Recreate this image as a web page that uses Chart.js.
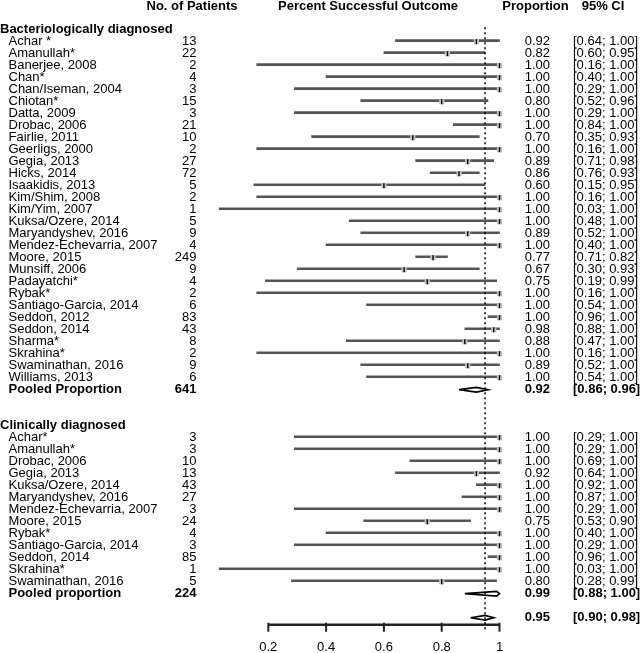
<!DOCTYPE html>
<html><head><meta charset="utf-8">
<script src="https://cdn.jsdelivr.net/npm/chart.js@4.4.1/dist/chart.umd.min.js"></script>
<style>html,body{margin:0;padding:0;background:#fff;overflow:hidden;}canvas{display:block;}</style>
</head><body>
<canvas id="c" width="642" height="653"></canvas>
<script>
// ---- Data ----
const bactStudies = ["Achar *","Amanullah*","Banerjee, 2008","Chan*","Chan/Iseman, 2004","Chiotan*","Datta, 2009","Drobac, 2006","Fairlie, 2011","Geerligs, 2000","Gegia, 2013","Hicks, 2014","Isaakidis, 2013","Kim/Shim, 2008","Kim/Yim, 2007","Kuksa/Ozere, 2014","Maryandyshev, 2016","Mendez-Echevarria, 2007","Moore, 2015","Munsiff, 2006","Padayatchi*","Rybak*","Santiago-Garcia, 2014","Seddon, 2012","Seddon, 2014","Sharma*","Skrahina*","Swaminathan, 2016","Williams, 2013"];
const bactN   = [13,22,2,4,3,15,3,21,10,2,27,72,5,2,1,5,9,4,249,9,4,2,6,83,43,8,2,9,6];
const bactEst = [0.92,0.82,1.00,1.00,1.00,0.80,1.00,1.00,0.70,1.00,0.89,0.86,0.60,1.00,1.00,1.00,0.89,1.00,0.77,0.67,0.75,1.00,1.00,1.00,0.98,0.88,1.00,0.89,1.00];
const bactLo  = [0.64,0.60,0.16,0.40,0.29,0.52,0.29,0.84,0.35,0.16,0.71,0.76,0.15,0.16,0.03,0.48,0.52,0.40,0.71,0.30,0.19,0.16,0.54,0.96,0.88,0.47,0.16,0.52,0.54];
const bactHi  = [1.00,0.95,1.00,1.00,1.00,0.96,1.00,1.00,0.93,1.00,0.98,0.93,0.95,1.00,1.00,1.00,1.00,1.00,0.82,0.93,0.99,1.00,1.00,1.00,1.00,1.00,1.00,1.00,1.00];

const clinStudies = ["Achar*","Amanullah*","Drobac, 2006","Gegia, 2013","Kuksa/Ozere, 2014","Maryandyshev, 2016","Mendez-Echevarria, 2007","Moore, 2015","Rybak*","Santiago-Garcia, 2014","Seddon, 2014","Skrahina*","Swaminathan, 2016"];
const clinN   = [3,3,10,13,43,27,3,24,4,3,85,1,5];
const clinEst = [1.00,1.00,1.00,0.92,1.00,1.00,1.00,0.75,1.00,1.00,1.00,1.00,0.80];
const clinLo  = [0.29,0.29,0.69,0.64,0.92,0.87,0.29,0.53,0.40,0.29,0.96,0.03,0.28];
const clinHi  = [1.00,1.00,1.00,1.00,1.00,1.00,1.00,0.90,1.00,1.00,1.00,1.00,0.99];

const pooledLabels = ["Pooled Proportion","Pooled proportion",""];
const pooledN   = [641,224,null];
const pooledEst = [0.92,0.99,0.95];
const pooledLo  = [0.86,0.88,0.90];
const pooledHi  = [0.96,1.00,0.98];

const sectionTitles = ["Bacteriologically diagnosed","Clinically diagnosed"];
const columnHeaders = ["No. of Patients","Percent Successful Outcome","Proportion","95% CI"];
const refValue = 0.95;
const xTicks = [0.2,0.4,0.6,0.8,1];
const xTickLabels = ["0.2","0.4","0.6","0.8","1"];

// ---- Row layout (row indices) ----
const bactStart = 0;
const bactPooledRow = bactStart + bactStudies.length;
const clinHeaderRow = bactPooledRow + 3;
const clinStart = clinHeaderRow + 1;
const clinPooledRow = clinStart + clinStudies.length;
const overallRow = clinPooledRow + 2;
const pooledRows = [bactPooledRow, clinPooledRow, overallRow];
const headerRow = -2.9;
const axisRow = 48.5;
const tickLabelRow = 50.5;

const rows = [];
bactStudies.forEach((s,i)=>rows.push({label:s,n:bactN[i],est:bactEst[i],lo:bactLo[i],hi:bactHi[i],y:bactStart+i}));
clinStudies.forEach((s,i)=>rows.push({label:s,n:clinN[i],est:clinEst[i],lo:clinLo[i],hi:clinHi[i],y:clinStart+i}));

const ciBars = rows.map(r=>({y:r.y, x:[r.lo, r.hi]}));
const pts = rows.map(r=>({x:r.est, y:r.y}));
const axisBar = [{y:axisRow, x:[xTicks[0], xTicks[xTicks.length-1]]}];

const dh = 0.2;
const diamonds = pooledRows.map((yr,k)=>({
  type:'line', showLine:true,
  data:[{x:pooledLo[k],y:yr},{x:pooledEst[k],y:yr-dh},{x:pooledHi[k],y:yr},{x:pooledEst[k],y:yr+dh},{x:pooledLo[k],y:yr}],
  borderColor:'#000', borderWidth:1.7, pointRadius:0, fill:false, tension:0, clip:false, order:2
}));

const fontFam = "'Liberation Sans', Arial, Helvetica, sans-serif";
const FS = 13;

const textPlugin = {
  id:'forestText',
  afterDraw(chart){
    const ctx = chart.ctx, xs = chart.scales.x, ys = chart.scales.y;
    const Y = v => ys.getPixelForValue(v);
    ctx.save();
    ctx.fillStyle = '#000';
    ctx.textBaseline = 'middle';
    const reg = FS+'px '+fontFam, bold = 'bold '+FS+'px '+fontFam;
    ctx.font = bold; ctx.textAlign = 'center';
    const hx = [192, 368, 535.5, 603];
    columnHeaders.forEach((h,i)=>ctx.fillText(h, hx[i], Y(headerRow)));
    ctx.textAlign = 'left';
    ctx.fillText(sectionTitles[0], 0, Y(bactStart-1));
    ctx.fillText(sectionTitles[1], 0, Y(clinHeaderRow));
    rows.forEach(r=>{
      const yy = Y(r.y);
      ctx.font = reg;
      ctx.textAlign = 'left'; ctx.fillText(r.label, 8.5, yy);
      ctx.textAlign = 'right'; ctx.fillText(String(r.n), 196.5, yy);
      ctx.fillText(r.est.toFixed(2), 550, yy);
      ctx.textAlign = 'left';
      ctx.fillText('['+r.lo.toFixed(2)+'; '+r.hi.toFixed(2)+']', 573, yy);
    });
    pooledRows.forEach((yr,k)=>{
      const yy = Y(yr);
      ctx.font = bold;
      if (pooledLabels[k]) { ctx.textAlign='left'; ctx.fillText(pooledLabels[k], 8.5, yy); }
      if (pooledN[k]!==null) { ctx.textAlign='right'; ctx.fillText(String(pooledN[k]), 196.5, yy); }
      ctx.textAlign='right'; ctx.fillText(pooledEst[k].toFixed(2), 550, yy);
      ctx.textAlign='left'; ctx.fillText('['+pooledLo[k].toFixed(2)+'; '+pooledHi[k].toFixed(2)+']', 573, yy);
    });
    const ay = Y(axisRow);
    xTicks.forEach((t,i)=>{
      const px = xs.getPixelForValue(t);
      ctx.fillStyle = '#222';
      ctx.fillRect(px - 1, ay - 1, 2, 9);
      ctx.fillStyle = '#000';
      ctx.font = reg; ctx.textAlign = 'center';
      ctx.fillText(xTickLabels[i], px, Y(tickLabelRow));
    });
    ctx.restore();
  }
};

new Chart(document.getElementById('c'), {
  type:'scatter',
  data:{
    datasets:[
      {type:'bar', indexAxis:'y', data:ciBars, backgroundColor:'#555', borderWidth:0, barThickness:2, clip:false, order:6},
      {type:'bar', indexAxis:'y', data:axisBar, backgroundColor:'#222', borderWidth:0, barThickness:2, clip:false, order:6},
      {type:'scatter', data:pts, pointStyle:'rect', pointRadius:3.7, backgroundColor:'#c2c2c2', borderWidth:0, clip:false, order:5},
      {type:'scatter', data:pts, pointStyle:'line', rotation:90, pointRadius:2.5, borderColor:'#000', borderWidth:1.4, clip:false, order:4},
      ...diamonds,
      {type:'line', showLine:true, data:[{x:refValue,y:-1.2},{x:refValue,y:49.0}], borderColor:'#000', borderWidth:1.5, borderDash:[2,3], pointRadius:0, fill:false, clip:false, order:1}
    ]
  },
  options:{
    responsive:false, animation:false, devicePixelRatio:1,
    layout:{padding:{left:210.5, right:142.5, top:0, bottom:0}, autoPadding:false},
    plugins:{legend:{display:false}, tooltip:{enabled:false}},
    scales:{
      x:{type:'linear', min:0, max:1, display:false, offset:false, grace:0},
      y:{type:'linear', min:-3.475, max:50.94, reverse:true, display:false, offset:false, grace:0}
    }
  },
  plugins:[textPlugin]
});
</script>
</body></html>
